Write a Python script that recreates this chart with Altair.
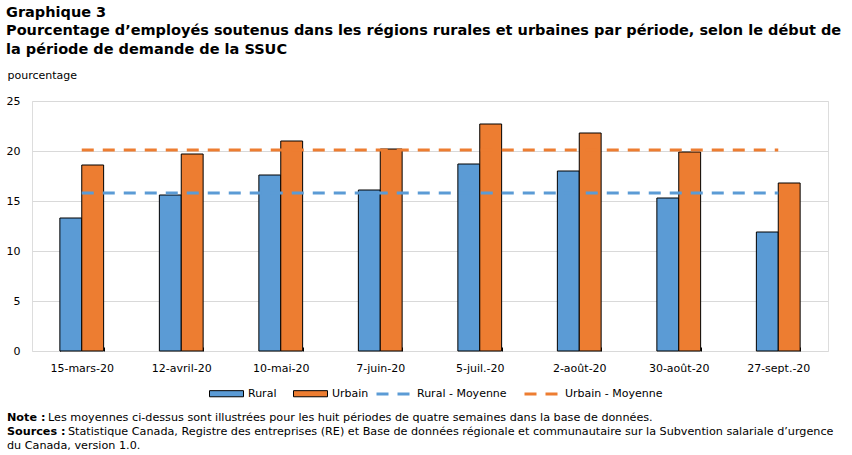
import altair as alt
import pandas as pd

categories = ["15-mars-20", "12-avril-20", "10-mai-20", "7-juin-20",
              "5-juil.-20", "2-août-20", "30-août-20", "27-sept.-20"]
rural = [13.3, 15.6, 17.6, 16.1, 18.7, 18.0, 15.3, 11.9]
urbain = [18.6, 19.7, 21.0, 20.2, 22.7, 21.8, 19.9, 16.8]
rural_mean = 15.8
urbain_mean = 20.1

bar_series = ["Rural", "Urbain"]
line_series = ["Rural - Moyenne", "Urbain - Moyenne"]
bar_colors = ["#5B9BD5", "#ED7D31"]

title_lines = [
    "Graphique 3",
    "Pourcentage d’employés soutenus dans les régions rurales et urbaines par période, selon le début de",
    "la période de demande de la SSUC",
]
y_title = "pourcentage"
note_bold = "Note :"
note_text = "Les moyennes ci-dessus sont illustrées pour les huit périodes de quatre semaines dans la base de données."
src_bold = "Sources :"
src_text1 = "Statistique Canada, Registre des entreprises (RE) et Base de données régionale et communautaire sur la Subvention salariale d’urgence"
src_text2 = "du Canada, version 1.0."

bars_df = pd.DataFrame(
    [{"Période": c, "Série": "Rural", "Valeur": v} for c, v in zip(categories, rural)]
    + [{"Période": c, "Série": "Urbain", "Valeur": v} for c, v in zip(categories, urbain)]
)
lines_df = pd.DataFrame(
    [{"Période": c, "Moy": "Rural - Moyenne", "Valeur": rural_mean} for c in categories]
    + [{"Période": c, "Moy": "Urbain - Moyenne", "Valeur": urbain_mean} for c in categories]
)

FONT = "DejaVu Sans"

x_enc = alt.X(
    "Période:N", sort=categories, title=None,
    scale=alt.Scale(paddingInner=0.56, paddingOuter=0.28),
    axis=alt.Axis(labelAngle=0, tickBand="extent", ticks=True, tickSize=4,
                  tickColor="black", domain=False, offset=-4, labelPadding=11,
                  labelFont=FONT, labelFontSize=11, labelColor="black"),
)
y_enc = alt.Y(
    "Valeur:Q", title=y_title,
    scale=alt.Scale(domain=[0, 25], nice=False),
    axis=alt.Axis(values=[0, 5, 10, 15, 20, 25], ticks=False, domain=False,
                  labelPadding=12, labelFont=FONT, labelFontSize=11, labelColor="black",
                  gridColor="#d9d9d9", gridWidth=1,
                  titleAngle=0, titleAlign="left", titleBaseline="middle",
                  titleX=-25, titleY=-26, titleFont=FONT, titleFontSize=11,
                  titleFontWeight="normal", titleColor="black"),
)

bars = alt.Chart(bars_df).mark_bar(stroke="black", strokeWidth=1).encode(
    x=x_enc,
    xOffset=alt.XOffset("Série:N", sort=bar_series, scale=alt.Scale(paddingInner=0, paddingOuter=0)),
    y=y_enc,
    fill=alt.Fill("Série:N", scale=alt.Scale(domain=bar_series, range=bar_colors),
                  legend=alt.Legend(orient="none", legendX=177, legendY=275, direction="horizontal",
                                    title=None, symbolType="M-1,-0.18H1V0.18H-1Z", symbolSize=1156,
                                    symbolStrokeColor="black", symbolStrokeWidth=1,
                                    symbolOpacity=1, labelOffset=4, columnPadding=14,
                                    labelFont=FONT, labelFontSize=11, labelColor="black")),
)

lines = alt.Chart(lines_df).mark_line(strokeWidth=3, strokeDash=[12, 9]).encode(
    x=alt.X("Période:N", sort=categories),
    y=alt.Y("Valeur:Q"),
    stroke=alt.Stroke("Moy:N", scale=alt.Scale(domain=line_series, range=bar_colors),
                      legend=alt.Legend(orient="none", legendX=343, legendY=275, direction="horizontal",
                                        title=None, symbolType="stroke", symbolSize=1089,
                                        symbolDash=[12, 9], symbolStrokeWidth=3,
                                        labelOffset=6, columnPadding=11,
                                        labelFont=FONT, labelFontSize=11, labelColor="black")),
    detail="Moy:N",
)

def txt(s, x, y, bold=False):
    return alt.Chart(pd.DataFrame({"t": [s]})).mark_text(
        align="left", baseline="middle", font=FONT, fontSize=11.2, color="black",
        fontWeight="bold" if bold else "normal",
    ).encode(text="t:N", x=alt.value(x), y=alt.value(y))

notes = [
    txt(note_bold, -25, 317, True), txt(note_text, 16, 317),
    txt(src_bold, -25, 331, True), txt(src_text1, 36, 331),
    txt(src_text2, -25, 345),
]

chart = alt.layer(bars, lines, *notes).resolve_scale(fill="independent", stroke="independent").properties(
    width=796, height=250,
    title=alt.TitleParams(text=title_lines, anchor="start", frame="group", dx=-26,
                          font=FONT, fontSize=14.5, fontWeight="bold", color="black",
                          lineHeight=18.5, offset=12),
    autosize=alt.AutoSizeParams(type="none"),
    padding={"left": 32, "top": 101, "right": 24, "bottom": 104},
).configure_view(stroke="black", strokeWidth=1).configure(background="white")

chart.save("out.html", embed_options={"renderer": "svg", "actions": False})
